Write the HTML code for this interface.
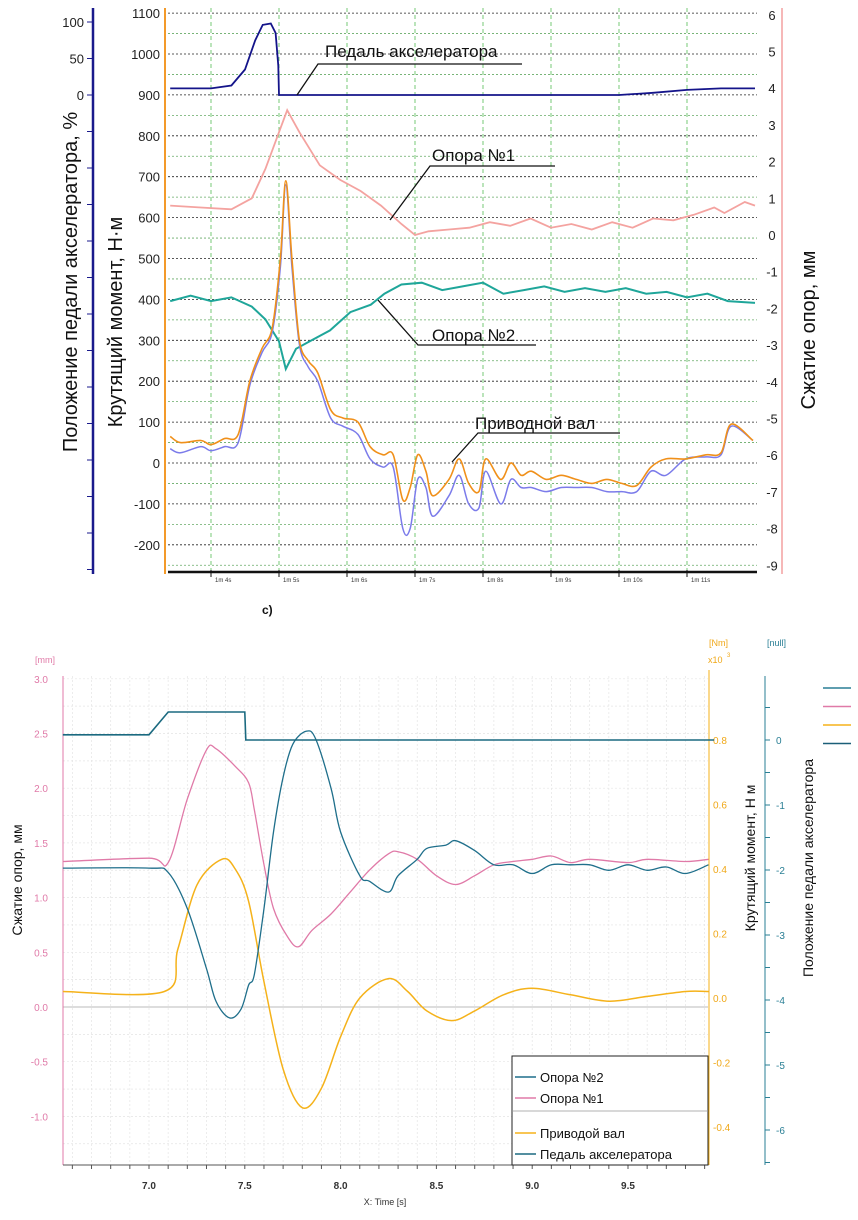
<!DOCTYPE html>
<html><head><meta charset="utf-8"><style>
body{margin:0;background:#fff}
svg text{font-family:"Liberation Sans","DejaVu Sans",sans-serif}
</style></head><body>
<svg id="s" width="858" height="1215" viewBox="0 0 858 1215" xmlns="http://www.w3.org/2000/svg">
<g id="top"></g>
<g id="bot"></g>
</svg>
<script>
// ===== TOP CHART DATA =====
const topTimes = [63.4,64.0,64.3,64.5,64.65,64.76,64.88,64.95,64.99,65.0,66,67,68,69,70.0,70.5,71.0,71.5,72.0];
const topPedal = [9,9,13,35,75,96,98,85,40,0,0,0,0,0,0,3,7,9,9];
const op1X = [63.4,63.85,64.3,64.6,64.8,65.0,65.12,65.3,65.6,65.9,66.2,66.5,66.8,67.0,67.2,67.5,67.8,68.1,68.4,68.7,69.0,69.3,69.6,69.9,70.2,70.5,70.8,71.1,71.4,71.55,71.85,72.0];
const op1V = [0.8,0.75,0.7,1.0,1.8,2.8,3.4,2.8,1.9,1.5,1.2,0.8,0.3,0.0,0.1,0.15,0.2,0.35,0.25,0.45,0.2,0.3,0.15,0.35,0.2,0.45,0.4,0.55,0.75,0.6,0.9,0.8];
const op2X = [63.4,63.7,64.0,64.3,64.6,64.8,65.0,65.1,65.25,65.45,65.75,66.05,66.35,66.55,66.8,67.1,67.4,67.7,68.0,68.3,68.6,68.9,69.2,69.5,69.8,70.1,70.4,70.7,71.0,71.3,71.6,72.0];
const op2V = [-1.8,-1.65,-1.8,-1.7,-1.95,-2.3,-2.9,-3.65,-3.1,-2.9,-2.6,-2.1,-1.9,-1.6,-1.35,-1.3,-1.5,-1.4,-1.3,-1.6,-1.5,-1.4,-1.55,-1.45,-1.55,-1.45,-1.6,-1.55,-1.7,-1.6,-1.8,-1.85];
const tqX = [63.4,63.55,63.85,64.0,64.2,64.4,64.57,64.75,64.9,65.02,65.1,65.19,65.3,65.43,65.57,65.76,65.94,66.16,66.34,66.53,66.68,66.82,66.93,67.04,67.16,67.26,67.5,67.65,67.79,67.94,68.04,68.26,68.41,68.56,68.71,68.93,69.15,69.37,69.6,69.82,70.04,70.26,70.47,70.69,70.98,71.28,71.5,71.65,71.97];
const tqOrange = [65,50,55,45,60,70,200,280,330,500,690,500,300,250,220,130,110,100,40,20,20,-90,-60,20,-20,-80,-40,10,-50,-70,10,-40,0,-30,-20,-40,-30,-40,-50,-40,-50,-55,-10,10,10,20,25,95,55];
const tqPurple = [35,25,40,30,40,50,190,270,320,480,680,480,290,235,200,110,90,70,10,-10,-10,-160,-160,-40,-60,-130,-80,-30,-100,-110,-20,-100,-40,-60,-60,-70,-60,-60,-60,-70,-70,-70,-20,-30,10,15,20,90,55];
const topTicks = ["1m 4s","1m 5s","1m 6s","1m 7s","1m 8s","1m 9s","1m 10s","1m 11s"];
const tqTicks = [1100,1000,900,800,700,600,500,400,300,200,100,0,-100,-200];
const mmTicks = [6,5,4,3,2,1,0,-1,-2,-3,-4,-5,-6,-7,-8,-9];
const pedTicks = [100,50,0];

// ===== BOTTOM CHART DATA =====
const pedBX = [6.55,7.0,7.1,7.5,7.505,9.95];
const pedBV = [0.08,0.08,0.43,0.43,0.0,0.0];
const op2BX = [6.55,7.0,7.1,7.2,7.3,7.35,7.42,7.48,7.52,7.55,7.6,7.65,7.7,7.75,7.82,7.87,7.95,8.0,8.1,8.15,8.25,8.3,8.4,8.45,8.55,8.6,8.7,8.8,8.9,9.0,9.1,9.2,9.3,9.4,9.5,9.6,9.7,9.8,9.92];
const op2BV = [1.27,1.27,1.23,0.9,0.35,0.05,-0.1,-0.02,0.2,0.3,0.9,1.6,2.1,2.4,2.52,2.45,2.0,1.6,1.2,1.15,1.05,1.2,1.35,1.45,1.48,1.52,1.43,1.3,1.3,1.22,1.3,1.3,1.3,1.25,1.3,1.25,1.28,1.22,1.3];
const op1BX = [6.55,7.0,7.1,7.2,7.3,7.35,7.45,7.52,7.55,7.6,7.65,7.72,7.78,7.85,7.95,8.05,8.15,8.25,8.3,8.4,8.5,8.6,8.7,8.8,8.9,9.0,9.1,9.2,9.3,9.5,9.6,9.8,9.92];
const op1BV = [1.33,1.36,1.32,1.9,2.35,2.36,2.2,2.05,1.8,1.3,0.9,0.65,0.55,0.7,0.85,1.05,1.25,1.4,1.42,1.35,1.2,1.12,1.2,1.3,1.33,1.35,1.38,1.32,1.35,1.32,1.35,1.33,1.35];
const shaftX = [6.55,7.08,7.15,7.25,7.38,7.45,7.52,7.6,7.7,7.8,7.9,8.0,8.1,8.25,8.35,8.45,8.58,8.7,8.85,9.0,9.2,9.4,9.6,9.8,9.92];
const shaftV = [0.02,0.02,0.15,0.35,0.43,0.4,0.3,0.05,-0.22,-0.34,-0.28,-0.12,0.0,0.06,0.02,-0.04,-0.07,-0.04,0.01,0.03,0.01,-0.01,0.005,0.02,0.02];
const bxTicks = [7.0,7.5,8.0,8.5,9.0,9.5];
const bmmTicks = [3.0,2.5,2.0,1.5,1.0,0.5,0.0,-0.5,-1.0];
const bnmTicks = [0.8,0.6,0.4,0.2,0.0,-0.2,-0.4];
const bpedTicks = [0,-1,-2,-3,-4,-5,-6];

const NS="http://www.w3.org/2000/svg";
function mk(parent,tag,attrs,text){const e=document.createElementNS(NS,tag);for(const k in attrs)e.setAttribute(k,attrs[k]);if(text!==undefined)e.textContent=text;parent.appendChild(e);return e;}
function pts(xs,vs,fx,fy){return xs.map((x,i)=>fx(x).toFixed(1)+","+fy(vs[i]).toFixed(1)).join(" ");}
function smooth(xs,vs,fx,fy){const P=xs.map((x,i)=>[fx(x),fy(vs[i])]);let d="M"+P[0][0].toFixed(1)+","+P[0][1].toFixed(1);
for(let i=0;i<P.length-1;i++){const p0=P[Math.max(0,i-1)],p1=P[i],p2=P[i+1],p3=P[Math.min(P.length-1,i+2)];
const c1=[p1[0]+(p2[0]-p0[0])/6,p1[1]+(p2[1]-p0[1])/6],c2=[p2[0]-(p3[0]-p1[0])/6,p2[1]-(p3[1]-p1[1])/6];
d+=` C${c1[0].toFixed(1)},${c1[1].toFixed(1)} ${c2[0].toFixed(1)},${c2[1].toFixed(1)} ${p2[0].toFixed(1)},${p2[1].toFixed(1)}`;}return d;}

// ---- top axes ----
const T=document.getElementById('top');
const tx=t=>211+(t-64)*68;
const tyTq=v=>463-v*0.409;
const tyMm=v=>235-v*36.7;
const tyPed=v=>95-v*0.73;
for(let v=1100;v>=-250;v-=50){const l=mk(T,'line',{x1:168,x2:757,y1:tyTq(v),y2:tyTq(v),stroke:(v%100===0)?'#222':'#6a6',"stroke-width":0.8,"stroke-dasharray":"2,2"});

}
for(let i=0;i<topTicks.length;i++){const x=tx(64+i);
const g=mk(T,'line',{x1:x,x2:x,y1:8,y2:572,stroke:'#5b5',"stroke-width":0.8,"stroke-dasharray":"4,3"});


const t=mk(T,'text',{x:x+4,y:582,"font-size":6,fill:'#333'},topTicks[i]);


mk(T,'line',{x1:x,x2:x,y1:570,y2:577,stroke:'#111',"stroke-width":1});}
mk(T,'line',{x1:168,x2:757,y1:572,y2:572,stroke:'#111',"stroke-width":2.5,});
mk(T,'line',{x1:93,x2:93,y1:8,y2:574,stroke:'#1a1a8c',"stroke-width":2.5,});
for(let y=22;y<574;y+=36.5)mk(T,'line',{x1:87,x2:93,y1:y,y2:y,stroke:'#1a1a8c'});
mk(T,'line',{x1:165,x2:165,y1:8,y2:574,stroke:'#f39a2a',"stroke-width":2,});
mk(T,'line',{x1:782,x2:782,y1:8,y2:574,stroke:'#f4a0a0',"stroke-width":1.5,});
for(const v of pedTicks){const t=mk(T,'text',{x:84,y:tyPed(v)+5,"font-size":13,"text-anchor":"end",fill:'#222'},String(v));

}
for(const v of tqTicks){const t=mk(T,'text',{x:160,y:tyTq(v)+5,"font-size":13,"text-anchor":"end",fill:'#222'},String(v));

}
for(const v of mmTicks){const t=mk(T,'text',{x:772,y:tyMm(v)+5,"font-size":13,"text-anchor":"middle",fill:'#222'},String(v));

}
mk(T,'text',{x:0,y:0,"font-size":20,"text-anchor":"middle",fill:'#111',transform:'translate(77,282) rotate(-90)',},"Положение педали акселератора, %");
mk(T,'text',{x:0,y:0,"font-size":20,"text-anchor":"middle",fill:'#111',transform:'translate(122,322) rotate(-90)',},"Крутящий момент, Н·м");
mk(T,'text',{x:0,y:0,"font-size":20,"text-anchor":"middle",fill:'#111',transform:'translate(815,330) rotate(-90)',},"Сжатие опор, мм");
// series
mk(T,'polyline',{points:pts(op1X,op1V,tx,tyMm),fill:'none',stroke:'#f4a3a0',"stroke-width":1.8,});
mk(T,'polyline',{points:pts(op2X,op2V,tx,tyMm),fill:'none',stroke:'#1fa69a',"stroke-width":2,});
mk(T,'path',{d:smooth(tqX,tqPurple,tx,tyTq),fill:'none',stroke:'#7b7bea',"stroke-width":1.5,});
mk(T,'path',{d:smooth(tqX,tqOrange,tx,tyTq),fill:'none',stroke:'#f0901a',"stroke-width":1.6,});
mk(T,'polyline',{points:pts(topTimes,topPedal,tx,tyPed),fill:'none',stroke:'#14148a',"stroke-width":1.8,});
// annotations
function ann(name,text,tx0,ty0,x1,x2,uy,px,py){
const g=mk(T,'g',{});
mk(g,'text',{x:tx0,y:ty0,"font-size":17,fill:'#111'},text);
mk(g,'polyline',{points:`${x2},${uy} ${x1},${uy} ${px},${py}`,fill:'none',stroke:'#111',"stroke-width":1.3});}
ann('annotation-pedal','Педаль акселератора',325,57,318,522,64,297,95);
ann('annotation-opora1','Опора №1',432,161,430,555,166,390,220);
ann('annotation-opora2','Опора №2',432,341,418,536,345,378,300);
ann('annotation-shaft','Приводной вал',475,429,478,620,433,452,462);
mk(T,'text',{x:262,y:614,"font-size":12,"font-weight":"bold",fill:'#111',},"c)");

// ---- bottom ----
const B=document.getElementById('bot');
const bx=t=>149+(t-7)*191.6;
const byMm=v=>1007-v*109.4;
const byNm=v=>998-v*322.5;
const byPed=v=>740-v*65;
for(let t=6.6;t<9.95;t+=0.1){const l=mk(B,'line',{x1:bx(t),x2:bx(t),y1:676,y2:1165,stroke:'#e4e4e4',"stroke-width":0.7,"stroke-dasharray":"2,2"});

}
for(let v=3.0;v>-1.5;v-=0.25){const l=mk(B,'line',{x1:63,x2:708,y1:byMm(v),y2:byMm(v),stroke:'#e4e4e4',"stroke-width":0.7,"stroke-dasharray":"2,2"});

}
mk(B,'line',{x1:63,x2:708,y1:byMm(0),y2:byMm(0),stroke:'#bbb',"stroke-width":1,});
mk(B,'line',{x1:63,x2:63,y1:676,y2:1165,stroke:'#e07aa8',"stroke-width":1,});
mk(B,'line',{x1:63,x2:708,y1:1165,y2:1165,stroke:'#555',"stroke-width":1,});
for(let t=6.6;t<9.95;t+=0.1)mk(B,'line',{x1:bx(t),x2:bx(t),y1:1165,y2:1169,stroke:'#555'});
mk(B,'line',{x1:709,x2:709,y1:670,y2:1165,stroke:'#f5b21a',"stroke-width":1,});
mk(B,'line',{x1:765,x2:765,y1:676,y2:1165,stroke:'#2a7f95',"stroke-width":1,});
for(let v=0.5;v>=-6.5;v-=0.5)mk(B,'line',{x1:765,x2:770,y1:byPed(v),y2:byPed(v),stroke:'#2a7f95'});
for(const v of bxTicks){const t=mk(B,'text',{x:bx(v),y:1189,"font-size":10,"font-weight":"bold","text-anchor":"middle",fill:'#333'},v.toFixed(1));

}
for(const v of bmmTicks){const t=mk(B,'text',{x:48,y:byMm(v)+4,"font-size":10,"text-anchor":"end",fill:'#e07aa8'},v.toFixed(1));

}
for(const v of bnmTicks){const t=mk(B,'text',{x:713,y:byNm(v)+4,"font-size":10,fill:'#f0a818'},v.toFixed(1));

}
for(const v of bpedTicks){const t=mk(B,'text',{x:776,y:byPed(v)+4,"font-size":10,fill:'#2a7f95'},String(v));

}
mk(B,'text',{x:35,y:663,"font-size":9,fill:'#e07aa8',},"[mm]");
mk(B,'text',{x:709,y:646,"font-size":9,fill:'#f0a818',},"[Nm]");
mk(B,'text',{x:708,y:663,"font-size":9,fill:'#f0a818',},"x10");
mk(B,'text',{x:727,y:657,"font-size":6,fill:'#f0a818'},"3");
mk(B,'text',{x:767,y:646,"font-size":9,fill:'#2a7f95',},"[null]");
mk(B,'text',{x:385,y:1205,"font-size":9,"text-anchor":"middle",fill:'#333',},"X: Time [s]");
mk(B,'text',{x:0,y:0,"font-size":14,"text-anchor":"middle",fill:'#111',transform:'translate(22,880) rotate(-90)',},"Сжатие опор, мм");
mk(B,'text',{x:0,y:0,"font-size":14,"text-anchor":"middle",fill:'#111',transform:'translate(755,858) rotate(-90)',},"Крутящий момент, Н м");
mk(B,'text',{x:0,y:0,"font-size":14,"text-anchor":"middle",fill:'#111',transform:'translate(813,868) rotate(-90)',},"Положение педали акселератора");
const sideCols=['#2a7f95','#e07aa8','#f5b21a','#1b5f78'];
for(let i=0;i<4;i++){const l=mk(B,'line',{x1:823,x2:851,y1:688+i*18.5,y2:688+i*18.5,stroke:sideCols[i],"stroke-width":1.5});

}
// series
mk(B,'path',{d:smooth(shaftX,shaftV,bx,byNm),fill:'none',stroke:'#f5b21a',"stroke-width":1.5,});
mk(B,'path',{d:smooth(op1BX,op1BV,bx,byMm),fill:'none',stroke:'#e07aa8',"stroke-width":1.3,});
mk(B,'path',{d:smooth(op2BX,op2BV,bx,byMm),fill:'none',stroke:'#1f6f8b',"stroke-width":1.3,});
mk(B,'polyline',{points:pts(pedBX,pedBV,bx,byPed),fill:'none',stroke:'#1b6a80',"stroke-width":1.6,});
// legend
const L=mk(B,'g',{});
mk(L,'rect',{x:512,y:1056,width:196,height:109,fill:'#fff',stroke:'#222',"stroke-width":1});
const legN=['Опора №2','Опора №1','Приводой вал','Педаль акселератора'];
const legY=[1077,1098,1133,1154];
const legC=['#1f6f8b','#e07aa8','#f5b21a','#1b6a80'];
for(let i=0;i<4;i++){const g=mk(L,'g',{});


mk(g,'line',{x1:515,x2:536,y1:legY[i],y2:legY[i],stroke:legC[i],"stroke-width":1.5});
mk(g,'text',{x:540,y:legY[i]+5,"font-size":13,fill:'#111'},legN[i]);}
mk(L,'line',{x1:512,x2:708,y1:1111,y2:1111,stroke:'#999',"stroke-width":0.8});
</script>
</body></html>
